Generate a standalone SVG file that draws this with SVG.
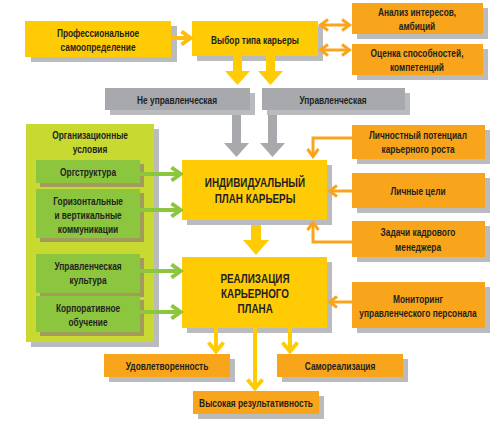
<svg xmlns="http://www.w3.org/2000/svg" width="500" height="425" viewBox="0 0 500 425">
<defs>
<style>
text{font-family:"Liberation Sans",Arial,sans-serif;font-weight:bold;font-size:11px;fill:#231f20;text-anchor:middle;dominant-baseline:central;transform:scaleX(0.76);transform-box:fill-box;transform-origin:center}
.big{font-size:13px}
.sh{fill:#b9bbbe}
.shg{fill:#a19c5c}
.y{fill:#ffcb05}
.o{fill:#f9a51b}
.g{fill:#a7a9ac}
.lg{fill:#c8d931}
.gr{fill:#8cc63f}
.ao{stroke:#f9a51b;stroke-width:3;fill:none}
.ay{stroke:#fdbd10;stroke-width:4;fill:none}
.ag{stroke:#8cc63f;stroke-width:4;fill:none}
.ayb{stroke:#ffcb05;stroke-width:4;fill:none}
</style>
<marker id="mo" markerUnits="userSpaceOnUse" viewBox="0 0 12 14" refX="10" refY="7" markerWidth="12" markerHeight="14" orient="auto-start-reverse"><path d="M2,1.5 L9.5,7 L2,12.5" stroke="#f9a51b" stroke-width="3" fill="none"/></marker>
<marker id="my" markerUnits="userSpaceOnUse" viewBox="0 0 14 16" refX="11.5" refY="8" markerWidth="14" markerHeight="16" orient="auto"><path d="M2,1.5 L11,8 L2,14.5" stroke="#fdbd10" stroke-width="4" fill="none"/></marker>
<marker id="myb" markerUnits="userSpaceOnUse" viewBox="0 0 14 18" refX="11.5" refY="9" markerWidth="14" markerHeight="18" orient="auto"><path d="M2,1.5 L11,9 L2,16.5" stroke="#ffcb05" stroke-width="4" fill="none"/></marker>
<marker id="mg" markerUnits="userSpaceOnUse" viewBox="0 0 14 16" refX="11.5" refY="8" markerWidth="14" markerHeight="16" orient="auto"><path d="M2,1.5 L11,8 L2,14.5" stroke="#8cc63f" stroke-width="4" fill="none"/></marker>
</defs>
<rect width="500" height="425" fill="#ffffff"/>

<g id="org">
<rect class="sh" x="31" y="129" width="128" height="218"/>
<rect class="lg" x="26" y="124" width="128" height="218"/>
<text x="90" y="135">Организационные</text>
<text x="90" y="149">условия</text>
</g>
<g id="orgstr">
<rect class="shg" x="40" y="164" width="104" height="23"/>
<rect class="gr" x="36" y="160" width="104" height="23"/>
<text x="88" y="172">Оргструктура</text>
</g>
<g id="comm">
<rect class="shg" x="40" y="193" width="104" height="49"/>
<rect class="gr" x="36" y="189" width="104" height="49"/>
<text x="88" y="201">Горизонтальные</text>
<text x="88" y="215">и вертикальные</text>
<text x="88" y="229">коммуникации</text>
</g>
<g id="cult">
<rect class="shg" x="40" y="258" width="104" height="39"/>
<rect class="gr" x="36" y="254" width="104" height="39"/>
<text x="88" y="266">Управленческая</text>
<text x="88" y="280">культура</text>
</g>
<g id="edu">
<rect class="shg" x="40" y="300" width="104" height="36"/>
<rect class="gr" x="36" y="296" width="104" height="36"/>
<text x="88" y="308">Корпоративное</text>
<text x="88" y="322">обучение</text>
</g>

<g id="prof">
<rect class="sh" x="31" y="26" width="146" height="36"/>
<rect class="y" x="25" y="21" width="146" height="36"/>
<text x="98" y="33">Профессиональное</text>
<text x="98" y="47">самоопределение</text>
</g>
<g id="choice">
<rect class="sh" x="197" y="26" width="126" height="35"/>
<rect class="y" x="192" y="21" width="126" height="35"/>
<text x="255" y="40">Выбор типа карьеры</text>
</g>
<g id="analysis">
<rect class="sh" x="357" y="8" width="131" height="31"/>
<rect class="o" x="352" y="3" width="131" height="31"/>
<text x="417" y="12">Анализ интересов,</text>
<text x="417" y="26">амбиций</text>
</g>
<g id="assess">
<rect class="sh" x="357" y="49" width="131" height="31"/>
<rect class="o" x="352" y="44" width="131" height="31"/>
<text x="417" y="53">Оценка способностей,</text>
<text x="417" y="67">компетенций</text>
</g>
<g id="nonman">
<rect class="sh" x="110" y="93" width="145" height="22"/>
<rect class="g" x="105" y="88" width="145" height="22"/>
<text x="177" y="100">Не управленческая</text>
</g>
<g id="man">
<rect class="sh" x="267" y="93" width="143" height="22"/>
<rect class="g" x="262" y="88" width="143" height="22"/>
<text x="333" y="100">Управленческая</text>
</g>
<g id="ipk">
<rect class="sh" x="187" y="165" width="145" height="60"/>
<rect class="y" x="182" y="160" width="145" height="60"/>
<text class="big" x="255" y="183">ИНДИВИДУАЛЬНЫЙ</text>
<text class="big" x="255" y="199">ПЛАН КАРЬЕРЫ</text>
</g>
<g id="real">
<rect class="sh" x="187" y="262" width="145" height="71"/>
<rect class="y" x="182" y="257" width="145" height="71"/>
<text class="big" x="255" y="279">РЕАЛИЗАЦИЯ</text>
<text class="big" x="255" y="294">КАРЬЕРНОГО</text>
<text class="big" x="255" y="309">ПЛАНА</text>
</g>
<g id="potential">
<rect class="sh" x="357" y="130" width="133" height="34"/>
<rect class="o" x="352" y="125" width="133" height="34"/>
<text x="418" y="135">Личностный потенциал</text>
<text x="418" y="149">карьерного роста</text>
</g>
<g id="goals">
<rect class="sh" x="357" y="178" width="133" height="35"/>
<rect class="o" x="352" y="173" width="133" height="35"/>
<text x="418" y="191">Личные цели</text>
</g>
<g id="tasks">
<rect class="sh" x="357" y="226" width="133" height="36"/>
<rect class="o" x="352" y="221" width="133" height="36"/>
<text x="418" y="232">Задачи кадрового</text>
<text x="418" y="247">менеджера</text>
</g>
<g id="monitor">
<rect class="sh" x="357" y="287" width="133" height="46"/>
<rect class="o" x="352" y="282" width="133" height="46"/>
<text x="418" y="299">Мониторинг</text>
<text x="418" y="313">управленческого персонала</text>
</g>
<g id="satisf">
<rect class="sh" x="109" y="359" width="126" height="23"/>
<rect class="o" x="104" y="354" width="126" height="23"/>
<text x="167" y="366">Удовлетворенность</text>
</g>
<g id="selfreal">
<rect class="sh" x="282" y="359" width="126" height="23"/>
<rect class="o" x="277" y="354" width="126" height="23"/>
<text x="340" y="366">Самореализация</text>
</g>
<g id="perf">
<rect class="sh" x="198" y="396" width="126" height="23"/>
<rect class="o" x="193" y="391" width="126" height="23"/>
<text x="256" y="403">Высокая результативность</text>
</g>

<g id="connectors">
<line class="ay" x1="171" y1="38" x2="191" y2="38" marker-end="url(#my)"/>
<line class="ao" x1="320" y1="25" x2="350" y2="25" marker-start="url(#mo)" marker-end="url(#mo)"/>
<line class="ao" x1="320" y1="50" x2="350" y2="50" marker-start="url(#mo)" marker-end="url(#mo)"/>
<polygon fill="#ffcb05" points="233,56 242,56 242,71 250,71 237.5,85 225,71 233,71"/>
<polygon fill="#ffcb05" points="266,56 275,56 275,71 283,71 270.5,85 258,71 266,71"/>
<polygon fill="#a7a9ac" points="232,115 241,115 241,143 249,143 236.5,157 224,143 232,143"/>
<polygon fill="#a7a9ac" points="268,115 277,115 277,143 285,143 272.5,157 260,143 268,143"/>
<polygon fill="#ffcb05" points="251,225 261,225 261,240 269,240 256,255 243,240 251,240"/>
<polyline class="ao" points="352,138 313,138 313,157" marker-end="url(#mo)"/>
<line class="ao" x1="352" y1="191" x2="329" y2="191" marker-end="url(#mo)"/>
<polyline class="ao" points="352,242 313,242 313,222" marker-end="url(#mo)"/>
<line class="ao" x1="352" y1="302" x2="329" y2="302" marker-end="url(#mo)"/>
<line class="ag" x1="140" y1="174" x2="181" y2="174" marker-end="url(#mg)"/>
<line class="ag" x1="140" y1="210" x2="181" y2="210" marker-end="url(#mg)"/>
<line class="ag" x1="140" y1="271" x2="181" y2="271" marker-end="url(#mg)"/>
<line class="ag" x1="140" y1="312" x2="181" y2="312" marker-end="url(#mg)"/>
<line class="ayb" x1="216" y1="328" x2="216" y2="352" marker-end="url(#myb)"/>
<line class="ayb" x1="255" y1="328" x2="255" y2="389" marker-end="url(#myb)"/>
<line class="ayb" x1="290" y1="328" x2="290" y2="352" marker-end="url(#myb)"/>
</g>
</svg>
